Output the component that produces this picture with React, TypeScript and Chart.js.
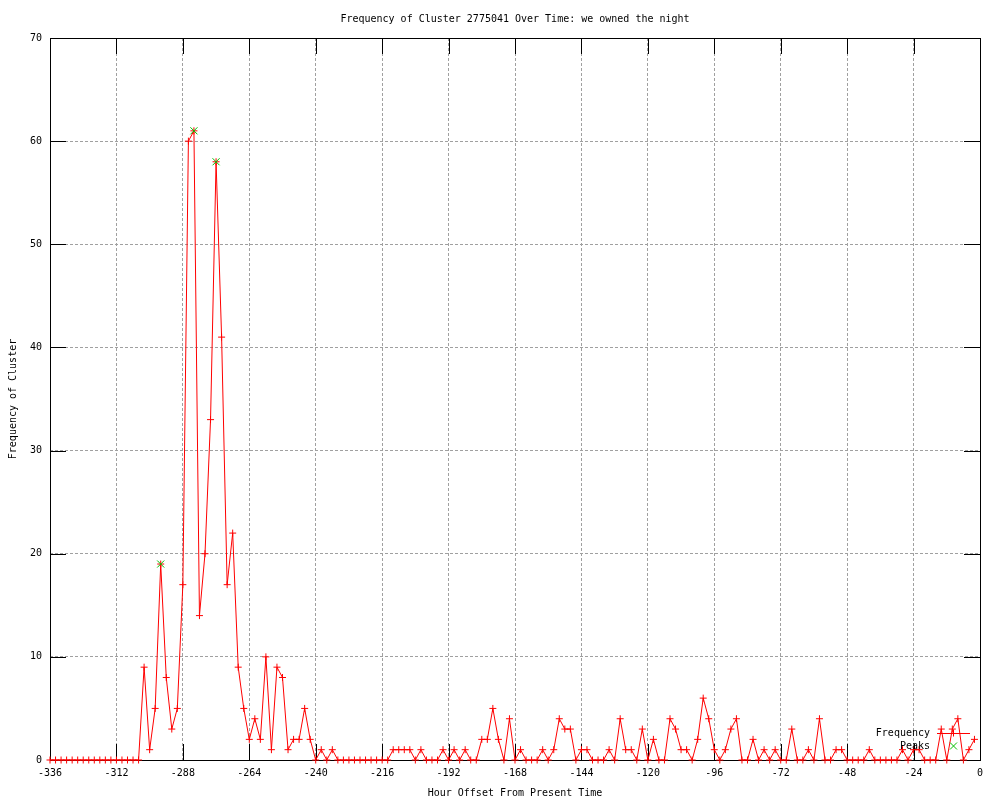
import { useEffect, useRef } from "react";
import { Chart, registerables } from "chart.js";

Chart.register(...registerables);

const chartTitle = "Frequency of Cluster 2775041 Over Time: we owned the night";
const xAxisTitle = "Hour Offset From Present Time";
const yAxisTitle = "Frequency of Cluster";
const seriesLabels = ["Frequency", "Peaks"];

const hours = [
  -336, -334, -332, -330, -328, -326, -324, -322, -320, -318, -316, -314,
  -312, -310, -308, -306, -304, -302, -300, -298, -296, -294, -292, -290,
  -288, -286, -284, -282, -280, -278, -276, -274, -272, -270, -268, -266,
  -264, -262, -260, -258, -256, -254, -252, -250, -248, -246, -244, -242,
  -240, -238, -236, -234, -232, -230, -228, -226, -224, -222, -220, -218,
  -216, -214, -212, -210, -208, -206, -204, -202, -200, -198, -196, -194,
  -192, -190, -188, -186, -184, -182, -180, -178, -176, -174, -172, -170,
  -168, -166, -164, -162, -160, -158, -156, -154, -152, -150, -148, -146,
  -144, -142, -140, -138, -136, -134, -132, -130, -128, -126, -124, -122,
  -120, -118, -116, -114, -112, -110, -108, -106, -104, -102, -100, -98,
  -96, -94, -92, -90, -88, -86, -84, -82, -80, -78, -76, -74,
  -72, -70, -68, -66, -64, -62, -60, -58, -56, -54, -52, -50,
  -48, -46, -44, -42, -40, -38, -36, -34, -32, -30, -28, -26,
  -24, -22, -20, -18, -16, -14, -12, -10, -8, -6, -4, -2,
];

const frequency = [
  0, 0, 0, 0, 0, 0, 0, 0, 0, 0, 0, 0,
  0, 0, 0, 0, 0, 9, 1, 5, 19, 8, 3, 5,
  17, 60, 61, 14, 20, 33, 58, 41, 17, 22, 9, 5,
  2, 4, 2, 10, 1, 9, 8, 1, 2, 2, 5, 2,
  0, 1, 0, 1, 0, 0, 0, 0, 0, 0, 0, 0,
  0, 0, 1, 1, 1, 1, 0, 1, 0, 0, 0, 1,
  0, 1, 0, 1, 0, 0, 2, 2, 5, 2, 0, 4,
  0, 1, 0, 0, 0, 1, 0, 1, 4, 3, 3, 0,
  1, 1, 0, 0, 0, 1, 0, 4, 1, 1, 0, 3,
  0, 2, 0, 0, 4, 3, 1, 1, 0, 2, 6, 4,
  1, 0, 1, 3, 4, 0, 0, 2, 0, 1, 0, 1,
  0, 0, 3, 0, 0, 1, 0, 4, 0, 0, 1, 1,
  0, 0, 0, 0, 1, 0, 0, 0, 0, 0, 1, 0,
  1, 1, 0, 0, 0, 3, 0, 3, 4, 0, 1, 2,
];

const peakHours = [-296, -284, -276];
const peakValues = [19, 61, 58];

const xMin = -336;
const xMax = 0;
const xStep = 24;
const yMin = 0;
const yMax = 70;
const yStep = 10;

const FONT_FAMILY = '"DejaVu Sans Mono", "Liberation Mono", monospace';
const FONT_SIZE = 10;
const RED = "#ff0000";
const GREEN = "#00c000";
const GRID = "#a0a0a0";
const TICK_LEN = 16;

const framePlugin = {
  id: "gnuFrame",
  beforeDatasetsDraw(chart: any) {
    const { ctx, chartArea } = chart;
    const { left, right, top, bottom } = chartArea;
    const xs = chart.scales.x;
    const ys = chart.scales.y;
    ctx.save();
    ctx.strokeStyle = "#000";
    ctx.lineWidth = 1;
    ctx.beginPath();
    for (const t of xs.ticks) {
      const px = Math.round(xs.getPixelForValue(t.value)) + 0.5;
      if (px <= left + 1 || px >= right - 1) continue;
      ctx.moveTo(px, bottom);
      ctx.lineTo(px, bottom - TICK_LEN);
      ctx.moveTo(px, top);
      ctx.lineTo(px, top + TICK_LEN);
    }
    for (const t of ys.ticks) {
      const py = Math.round(ys.getPixelForValue(t.value)) + 0.5;
      if (py <= top + 1 || py >= bottom - 1) continue;
      ctx.moveTo(left, py);
      ctx.lineTo(left + TICK_LEN, py);
      ctx.moveTo(right, py);
      ctx.lineTo(right - TICK_LEN, py);
    }
    ctx.stroke();
    ctx.strokeRect(Math.round(left) + 0.5, Math.round(top) + 0.5, Math.round(right - left), Math.round(bottom - top));
    ctx.restore();
  },
};

const legendPlugin = {
  id: "gnuLegend",
  afterDatasetsDraw(chart: any) {
    const { ctx, chartArea } = chart;
    const { right, bottom } = chartArea;
    const ds = chart.data.datasets;
    const textRight = right - 50;
    const sampleL = right - 43;
    const sampleR = right - 10;
    const sampleC = (sampleL + sampleR) / 2;
    const rows = [bottom - 27, bottom - 14];
    ctx.save();
    ctx.font = `${FONT_SIZE}px ${FONT_FAMILY}`;
    ctx.fillStyle = "#000";
    ctx.textAlign = "right";
    ctx.textBaseline = "middle";
    ctx.fillText(ds[0].label, textRight, rows[0]);
    ctx.fillText(ds[1].label, textRight, rows[1]);
    ctx.strokeStyle = ds[0].borderColor;
    ctx.lineWidth = 1;
    ctx.beginPath();
    ctx.moveTo(sampleL, rows[0] + 0.5);
    ctx.lineTo(sampleR, rows[0] + 0.5);
    ctx.moveTo(sampleC, rows[0] - 3.5);
    ctx.lineTo(sampleC, rows[0] + 3.5);
    ctx.stroke();
    ctx.strokeStyle = ds[1].borderColor;
    ctx.beginPath();
    ctx.moveTo(sampleC - 3.5, rows[1] - 3.5);
    ctx.lineTo(sampleC + 3.5, rows[1] + 3.5);
    ctx.moveTo(sampleC - 3.5, rows[1] + 3.5);
    ctx.lineTo(sampleC + 3.5, rows[1] - 3.5);
    ctx.stroke();
    ctx.restore();
  },
};

export default function App() {
  const ref = useRef<HTMLCanvasElement>(null);

  useEffect(() => {
    const font = { family: FONT_FAMILY, size: FONT_SIZE };
    const chart = new Chart(ref.current as HTMLCanvasElement, {
      type: "line",
      data: {
        datasets: [
          {
            label: seriesLabels[0],
            data: hours.map((h, i) => ({ x: h, y: frequency[i] })),
            borderColor: RED,
            backgroundColor: RED,
            borderWidth: 1,
            tension: 0,
            pointStyle: "cross",
            pointRadius: 3.5,
            pointBorderWidth: 1,
            pointBorderColor: RED,
            fill: false,
            clip: false,
            order: 1,
          } as any,
          {
            label: seriesLabels[1],
            data: peakHours.map((h, i) => ({ x: h, y: peakValues[i] })),
            borderColor: GREEN,
            backgroundColor: GREEN,
            showLine: false,
            pointStyle: "crossRot",
            pointRadius: 5,
            pointBorderWidth: 1,
            pointBorderColor: GREEN,
            clip: false,
            order: 0,
          } as any,
        ],
      },
      options: {
        responsive: false,
        animation: false,
        events: [],
        layout: { padding: { left: 0, right: 20, top: 0, bottom: 0 } },
        plugins: {
          legend: { display: false },
          tooltip: { enabled: false },
          title: {
            display: true,
            text: chartTitle,
            fullSize: false,
            color: "#000",
            font: { ...font, weight: "normal" },
            padding: { top: 13, bottom: 13 },
          },
        },
        scales: {
          x: {
            type: "linear",
            min: xMin,
            max: xMax,
            afterFit: (scale: any) => {
              scale.height = 40;
            },
            ticks: {
              stepSize: xStep,
              autoSkip: false,
              maxRotation: 0,
              color: "#000",
              font,
              padding: 7,
              callback: (v: any) => String(v),
            },
            grid: { color: GRID, lineWidth: 1, drawTicks: false },
            border: { display: false, dash: [3, 2] },
            title: {
              display: true,
              text: xAxisTitle,
              color: "#000",
              font,
              padding: { top: 0, bottom: 1 },
            },
          },
          y: {
            type: "linear",
            min: yMin,
            max: yMax,
            afterFit: (scale: any) => {
              scale.width = 50;
            },
            ticks: {
              stepSize: yStep,
              color: "#000",
              font,
              padding: 8,
              callback: (v: any) => String(v),
            },
            grid: { color: GRID, lineWidth: 1, drawTicks: false },
            border: { display: false, dash: [3, 2] },
            title: {
              display: true,
              text: yAxisTitle,
              color: "#000",
              font,
              padding: { top: 7, bottom: 0 },
            },
          },
        },
      } as any,
      plugins: [framePlugin, legendPlugin],
    });
    return () => chart.destroy();
  }, []);

  return (
    <div style={{ position: "fixed", left: 0, top: 0, width: 1000, height: 800, background: "#fff" }}>
      <canvas ref={ref} width={1000} height={800} style={{ display: "block", width: 1000, height: 800 }} />
    </div>
  );
}
